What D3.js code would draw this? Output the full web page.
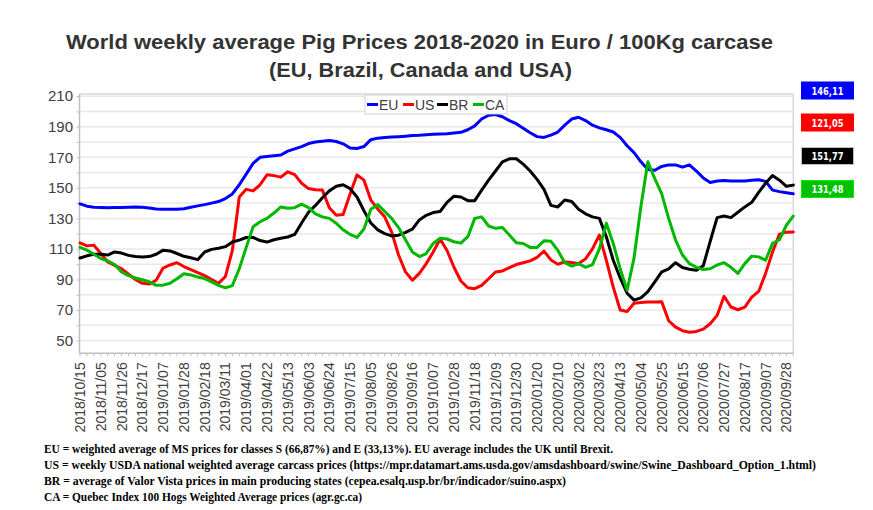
<!DOCTYPE html>
<html><head><meta charset="utf-8">
<script src="https://cdn.jsdelivr.net/npm/d3@7"></script>
<style>html,body{margin:0;padding:0;background:#fff}svg{display:block}</style>
</head><body>
<script>
// ---- DATA ----
const tickLabels = ["2018/10/15","2018/11/05","2018/11/26","2018/12/17","2019/01/07","2019/01/28","2019/02/18","2019/03/11","2019/04/01","2019/04/22","2019/05/13","2019/06/03","2019/06/24","2019/07/15","2019/08/05","2019/08/26","2019/09/16","2019/10/07","2019/10/28","2019/11/18","2019/12/09","2019/12/30","2020/01/20","2020/02/10","2020/03/02","2020/03/23","2020/04/13","2020/05/04","2020/05/25","2020/06/15","2020/07/06","2020/07/27","2020/08/17","2020/09/07","2020/09/28"];
const yTicks = [50,70,90,110,130,150,170,190,210];
const seriesNames = ["EU","US","BR","CA"];
const EU = [139.5,138,137.3,137.2,137,137.2,137.2,137.3,137.4,137.3,136.8,136.2,136,136,136,136.3,137.3,138.2,139,140,141,143,146,152,159,166,170,170.5,171,171.5,174,175.5,177,179,180,180.5,181,180.3,178.8,176,175.7,177,181.5,182.5,183,183.2,183.5,183.8,184.2,184.4,184.8,185,185.2,185.4,185.8,186.3,188,190.5,195,197.5,198,196.5,194,192,189,186,183.5,183,184.5,186.5,191,195,196.2,194,191,189.2,188,186.5,183,177.5,173,167,162,161.5,164,165,165,163.5,165,161,156.5,153.5,154.5,154.8,154.5,154.4,154.5,155,155.3,154.2,148.5,147.5,146.8,146.11];
const US = [114,112,112.5,107,101.5,99.3,97,93.5,90,87.5,87,89.5,97.5,99.5,101,98.5,96.5,94.5,92.5,90,87.5,92,109,144,149,148,152,158.5,158,157,160.5,158.6,153,149.5,148.7,148.5,137,132,132.5,146,158.5,155,142,136,131,121,106,95,89.5,94,100.4,108,116.5,109,98,89,84.6,84,86.2,90.5,94.9,95.6,97.8,99.8,101,102.2,104.5,108.6,102.8,100,101.5,101.2,100.4,103.5,110,119.1,102.6,85,70,69,74.5,75,75.2,75.2,75.5,63,58.8,56.5,55.5,56,57.5,61,66.5,79,72,70.2,71.9,78.5,82.2,94,108,119.7,121,121.05];
const BR = [104.1,105.5,106.5,106.5,106,108,107.3,105.8,105,104.8,105,106.5,109.2,108.7,107,105.2,104.2,103,108,109.7,110.5,111.5,114.5,115.8,117.5,117.5,115.5,114.5,116,117,117.8,119.5,127,134,138.5,143.5,148,151,152,149.5,144,135,127,122.5,120,118.5,119,120.8,123,129,132,133.8,134.5,140.5,144.5,144,141.6,141.6,148.5,155,161,167,169,169,165.5,161,155.5,149,138.5,137.5,142,141,136,133,131,130,118,102.6,91,81,76.5,78,82,88.4,95,97,101,97.8,96.7,96,99,115,130.5,131.5,130.5,134,137.5,140.5,147,153,158,155,151,151.77];
const CA = [111,109.2,106.5,103.7,102.3,99.8,94.9,92.5,91,89.8,88.5,86.2,86.3,87.5,90.5,93.8,93,91.6,90.6,88.5,86.2,84.5,86,97,111,124.5,127.8,130,133.5,137.5,136.6,137,139.3,137,133,131,130,126.8,122.5,119.5,117.5,123,136,139,134.5,130,124,116,108,105,107,113.6,117,116.5,114.7,113.8,118,130,131,125,123.5,124,119.1,114,113.6,111,111,115.3,115,109,101,98.8,100.4,98,99.8,110,126.8,113.6,97,83,104,138,167,156,146,130,115.8,106,100.4,98,96.5,97,99.5,101,98,94,100.4,105.3,104.8,102.6,113.6,116,125.5,131.48];
const seriesColors = ["#0000ff","#ff0000","#000000","#00b800"];
const footnotes = [
 "EU = weighted average of MS prices for classes S (66,87%) and E (33,13%). EU average includes the UK until Brexit.",
 "US = weekly USDA national weighted average carcass prices (https://mpr.datamart.ams.usda.gov/amsdashboard/swine/Swine_Dashboard_Option_1.html)",
 "BR = average of Valor Vista prices in main producing states (cepea.esalq.usp.br/br/indicador/suino.aspx)",
 "CA = Quebec Index 100 Hogs Weighted Average prices (agr.gc.ca)"
];
const footWidths = [569, 772, 522, 318];

// ---- CHART ----
const W = 873, H = 510;
const svg = d3.select("body").append("svg").attr("width", W).attr("height", H);
svg.append("rect").attr("width", W).attr("height", H).attr("fill", "#fff");

const series = [EU, US, BR, CA];
const n = EU.length;
const x = d3.scaleLinear().domain([0, n - 1]).range([80, 793.3]);
const y = d3.scaleLinear().domain([41.7, 211.4]).range([353.3, 94]);
const pL = 79.5, pR = 793.3, pT = 94, pB = 353.3;

// title
const title = svg.append("g").attr("font-family", "Liberation Sans, Arial, sans-serif")
  .attr("font-weight", "bold").attr("fill", "#333").attr("font-size", 21);
title.append("text").attr("x", 419.5).attr("y", 48.5).attr("text-anchor", "middle")
  .attr("textLength", 707).attr("lengthAdjust", "spacingAndGlyphs")
  .text("World weekly average Pig Prices 2018-2020 in Euro / 100Kg carcase");
title.append("text").attr("x", 420.5).attr("y", 77).attr("text-anchor", "middle")
  .attr("textLength", 303).attr("lengthAdjust", "spacingAndGlyphs")
  .text("(EU, Brazil, Canada and USA)");

// gridlines
const gridVals = d3.range(50, 211, 10);
svg.append("g").selectAll("line").data(gridVals).join("line")
  .attr("x1", pL).attr("x2", pR).attr("y1", d => y(d)).attr("y2", d => y(d))
  .attr("stroke", "#e8e8e8").attr("stroke-width", 1.5);
svg.append("line").attr("x1", pL).attr("x2", pR).attr("y1", pT).attr("y2", pT).attr("stroke", "#d9d9d9").attr("stroke-width", 1.5);
svg.append("line").attr("x1", pR).attr("x2", pR).attr("y1", pT).attr("y2", pB).attr("stroke", "#d9d9d9").attr("stroke-width", 1.5);

// y axis
const yAxis = d3.axisLeft(y).tickValues(gridVals).tickSize(3).tickFormat(d => yTicks.includes(d) ? d : "");
const gy = svg.append("g").attr("transform", `translate(${pL},0)`).call(yAxis);
gy.select(".domain").attr("stroke", "#bfbfbf").attr("stroke-width", 1.5).attr("d", `M0,${pT}V${pB}`);
gy.selectAll(".tick line").attr("stroke", "#bfbfbf");
gy.selectAll("text").attr("font-family", "Liberation Sans, Arial, sans-serif").attr("font-size", 15)
  .attr("fill", "#404040").attr("x", -6.5);

// x axis
const gx = svg.append("g").attr("transform", `translate(0,${pB})`);
gx.append("line").attr("x1", pL).attr("x2", pR).attr("stroke", "#bfbfbf").attr("stroke-width", 1.5);
gx.selectAll("line.t").data(d3.range(n)).join("line").attr("class", "t")
  .attr("x1", d => x(d)).attr("x2", d => x(d)).attr("y1", 0).attr("y2", 3)
  .attr("stroke", "#bfbfbf");
gx.selectAll("text").data(tickLabels).join("text")
  .attr("transform", (d, i) => `translate(${x(i * 3)},9) rotate(-90)`)
  .attr("text-anchor", "end").attr("dy", "0.36em")
  .attr("font-family", "Liberation Sans, Arial, sans-serif").attr("font-size", 14)
  .attr("fill", "#404040").text(d => d);

// lines
const line = d3.line().x((d, i) => x(i)).y(d => y(d));
svg.append("g").selectAll("path").data(series).join("path")
  .attr("d", line).attr("fill", "none")
  .attr("stroke", (d, i) => seriesColors[i]).attr("stroke-width", 3)
  .attr("stroke-linejoin", "round").attr("stroke-linecap", "round");

// legend
const lg = svg.append("g");
lg.append("rect").attr("x", 365).attr("y", 95).attr("width", 142).attr("height", 19)
  .attr("fill", "#fff").attr("stroke", "#d0d0d0");
const legX = [367, 403, 437, 473];
seriesNames.forEach((s, i) => {
  lg.append("line").attr("x1", legX[i]).attr("x2", legX[i] + 11).attr("y1", 104.5).attr("y2", 104.5)
    .attr("stroke", seriesColors[i]).attr("stroke-width", 3);
  lg.append("text").attr("x", legX[i] + 12).attr("y", 109.5)
    .attr("font-family", "Liberation Sans, Arial, sans-serif").attr("font-size", 14)
    .attr("fill", "#404040").text(s);
});

// last-value boxes
const boxY = [82, 114, 147.5, 180.5];
const boxColors = ["#0000ff","#ff0000","#000000","#00c000"];
series.forEach((s, i) => {
  const v = s[s.length - 1];
  svg.append("rect").attr("x", 801.5).attr("y", boxY[i]).attr("width", 52).attr("height", 17)
    .attr("fill", boxColors[i]).attr("stroke", i === 2 ? "#bbb" : d3.color(boxColors[i]).brighter(0.6)).attr("stroke-width", 1);
  svg.append("text").attr("x", 827.5).attr("y", boxY[i] + 12.5).attr("text-anchor", "middle")
    .attr("font-family", "DejaVu Sans, sans-serif").attr("font-weight", "bold").attr("font-size", 11)
    .attr("textLength", 32).attr("lengthAdjust", "spacingAndGlyphs")
    .attr("fill", "#fff").text(v.toFixed(2).replace(".", ","));
});

// footnotes
svg.append("g").selectAll("text").data(footnotes).join("text")
  .attr("x", 44).attr("y", (d, i) => 453 + i * 16)
  .attr("font-family", "Liberation Serif, Times New Roman, serif").attr("font-weight", "bold")
  .attr("font-size", 12).attr("fill", "#000")
  .attr("textLength", (d, i) => footWidths[i]).attr("lengthAdjust", "spacingAndGlyphs")
  .text(d => d);
</script>
</body></html>
